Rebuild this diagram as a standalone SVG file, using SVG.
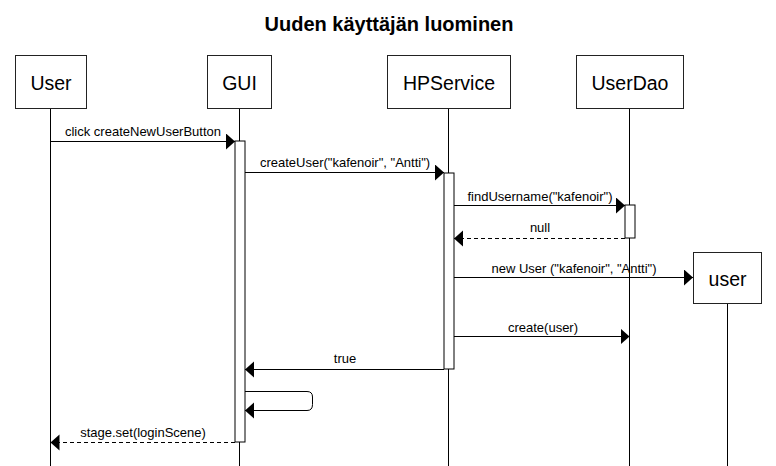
<svg xmlns="http://www.w3.org/2000/svg" width="776" height="466" viewBox="0 0 776 466">
  <defs>
    <style>
      text { font-family: "Liberation Sans", Arial, Helvetica, sans-serif; fill: #000; }
      .title { font-size: 20px; font-weight: bold; text-anchor: middle; }
      .head { font-size: 19.5px; text-anchor: middle; }
      .lbl { font-size: 13px; text-anchor: middle; }
      .box { fill: #fff; stroke: #222; stroke-width: 1; }
      .life { stroke: #000; stroke-width: 1; fill: none; }
      .act { fill: #fff; stroke: #000; stroke-width: 1; }
      .msg { stroke: #000; stroke-width: 1; fill: none; marker-end: url(#arrow); }
      .ret { stroke-dasharray: 4 3; }
    </style>
    <marker id="arrow" markerUnits="userSpaceOnUse" markerWidth="10" markerHeight="17" refX="9" refY="8" orient="auto" viewBox="0 0 10 17">
      <path d="M0,0 L9,8 L0,16 Z" fill="#000"/>
    </marker>
  </defs>
  <rect width="776" height="466" fill="#fff"/>
  <text class="title" x="389" y="31">Uuden käyttäjän luominen</text>

  <g id="lifelines">
    <line class="life" x1="50.5" y1="109" x2="50.5" y2="466"/>
    <line class="life" x1="239.5" y1="109" x2="239.5" y2="466"/>
    <line class="life" x1="448.5" y1="109" x2="448.5" y2="466"/>
    <line class="life" x1="629.5" y1="109" x2="629.5" y2="466"/>
    <line class="life" x1="727.5" y1="304" x2="727.5" y2="466"/>
  </g>

  <g id="User">
    <rect class="box" x="15.5" y="55.5" width="71" height="53"/>
    <text class="head" x="51" y="90">User</text>
  </g>
  <g id="GUI">
    <rect class="box" x="207.5" y="55.5" width="64" height="53"/>
    <text class="head" x="239.5" y="90">GUI</text>
  </g>
  <g id="HPService">
    <rect class="box" x="387.5" y="55.5" width="123" height="53"/>
    <text class="head" x="449" y="90">HPService</text>
  </g>
  <g id="UserDao">
    <rect class="box" x="576.5" y="55.5" width="107" height="53"/>
    <text class="head" x="630" y="90">UserDao</text>
  </g>
  <g id="user">
    <rect class="box" x="693.5" y="252.5" width="68" height="51"/>
    <text class="head" x="727.5" y="286">user</text>
  </g>

  <g id="activations">
    <rect class="act" x="235" y="141" width="10" height="301"/>
    <rect class="act" x="444" y="173" width="10" height="196"/>
    <rect class="act" x="625" y="205" width="10" height="33"/>
  </g>

  <g id="connectors">
    <line class="msg" x1="50.5" y1="141.5" x2="235" y2="141.5"/>
    <text class="lbl" x="143" y="136">click createNewUserButton</text>

    <line class="msg" x1="245" y1="172.5" x2="444" y2="172.5"/>
    <text class="lbl" x="345" y="167">createUser("kafenoir", "Antti")</text>

    <line class="msg" x1="454" y1="205.5" x2="625" y2="205.5"/>
    <text class="lbl" x="540" y="201">findUsername("kafenoir")</text>

    <line class="msg ret" x1="625" y1="238.5" x2="454" y2="238.5"/>
    <text class="lbl" x="540" y="232">null</text>

    <line class="msg" x1="454" y1="277.5" x2="693" y2="277.5"/>
    <text class="lbl" x="574" y="273">new User ("kafenoir", "Antti")</text>

    <line class="msg" x1="454" y1="336.5" x2="629.5" y2="336.5"/>
    <text class="lbl" x="543" y="332">create(user)</text>

    <line class="msg" x1="444" y1="369.5" x2="245" y2="369.5"/>
    <text class="lbl" x="345" y="363">true</text>

    <path class="msg" d="M245,391.5 H307 Q312.5,391.5 312.5,397 V404.5 Q312.5,410.5 307,410.5 H245"/>

    <line class="msg ret" x1="235" y1="442.5" x2="50.5" y2="442.5"/>
    <text class="lbl" x="143" y="437">stage.set(loginScene)</text>
  </g>
</svg>
